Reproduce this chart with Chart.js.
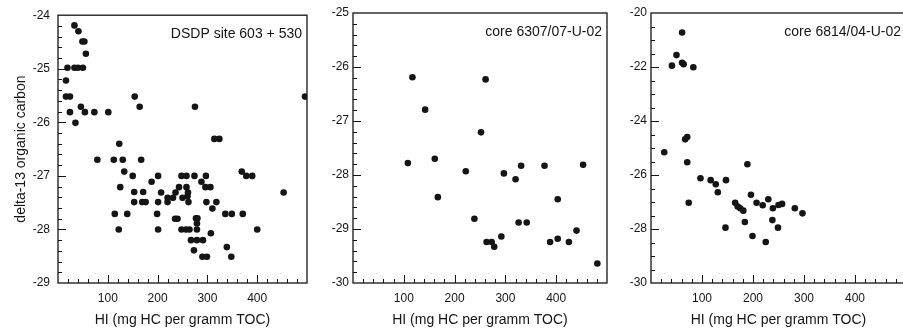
<!DOCTYPE html>
<html>
<head>
<meta charset="utf-8">
<title>delta-13 organic carbon vs HI</title>
<script src="https://cdn.jsdelivr.net/npm/chart.js@4.4.1/dist/chart.umd.min.js"></script>
<style>
    html, body { margin: 0; padding: 0; background: #fff; width: 903px; height: 330px; overflow: hidden; }
    .panel { position: absolute; top: 0; }
</style>
</head>
<body>
<div class="panel" style="left:0px"><canvas id="chart-dsdp" width="315" height="330"></canvas></div>
<div class="panel" style="left:315px"><canvas id="chart-6307" width="300" height="330"></canvas></div>
<div class="panel" style="left:615px"><canvas id="chart-6814" width="300" height="330"></canvas></div>
<script>
// *** DATA ***
var panelLabels = ["DSDP site 603 + 530", "core 6307/07-U-02", "core 6814/04-U-02"];
var hiTickLabels = [100, 200, 300, 400];
var xTitle = "HI (mg HC per gramm TOC)";
var yTitle = "delta-13 organic carbon";

// DSDP site 603 + 530
var dsdpHI = [33, 41, 49, 53, 56, 19, 33, 40, 50, 16, 16, 24, 24, 35, 46, 54, 73, 101,
    154, 164, 275, 496, 123, 314, 324, 79, 112, 130, 167, 133, 369,
    150, 201, 188, 248, 258, 274, 297, 288, 378, 390,
    125, 243, 258, 296, 306, 153, 171, 207, 236, 261, 453,
    220, 231, 250, 260, 153, 169, 176, 201, 220, 262, 298, 318, 310,
    114, 139, 199, 336, 349, 371, 235, 240, 277, 280, 279,
    122, 201, 248, 257, 264, 279, 307, 400, 267, 279, 291, 273, 339, 290, 299, 348];
var dsdpC = [-24.19, -24.30, -24.49, -24.49, -24.72, -24.98, -24.98, -24.98, -24.98, -25.22, -25.52, -25.52, -25.81, -26.01, -25.71, -25.81, -25.81, -25.81,
    -25.52, -25.71, -25.71, -25.52, -26.40, -26.31, -26.31, -26.70, -26.70, -26.70, -26.70, -26.92, -26.92,
    -27.00, -27.00, -27.11, -27.00, -27.00, -27.00, -27.00, -27.11, -27.00, -27.00,
    -27.21, -27.21, -27.21, -27.21, -27.21, -27.30, -27.30, -27.31, -27.31, -27.31, -27.31,
    -27.41, -27.41, -27.41, -27.38, -27.49, -27.49, -27.49, -27.49, -27.49, -27.49, -27.49, -27.49, -27.61,
    -27.71, -27.71, -27.71, -27.71, -27.71, -27.71, -27.80, -27.80, -27.79, -27.79, -27.89,
    -28.00, -28.00, -28.00, -28.00, -28.00, -28.00, -28.07, -28.00, -28.20, -28.20, -28.20, -28.39, -28.33, -28.51, -28.51, -28.51];

// core 6307/07-U-02
var core6307HI = [117, 261, 142, 252, 108, 161, 331, 377, 453, 222, 297, 320, 167, 403,
    239, 326, 342, 440, 292, 263, 273, 278, 388, 403, 425, 481];
var core6307C = [-26.19, -26.23, -26.79, -27.21, -27.78, -27.70, -27.83, -27.83, -27.81, -27.93, -27.97, -28.08, -28.41, -28.45,
    -28.81, -28.88, -28.88, -29.03, -29.14, -29.24, -29.24, -29.33, -29.24, -29.18, -29.24, -29.64];

// core 6814/04-U-02
var core6814HI = [61, 50, 41, 61, 64, 83, 71, 67, 26, 71, 189, 74, 97, 117, 127, 131, 147, 196,
    165, 170, 175, 181, 207, 219, 230, 239, 250, 257, 238, 184, 146, 249, 199, 225, 282, 297];
var core6814C = [-20.72, -21.56, -21.95, -21.84, -21.90, -22.01, -24.59, -24.68, -25.16, -25.53, -25.60, -27.03, -26.12, -26.19, -26.34, -26.64, -26.19, -26.73,
    -27.03, -27.17, -27.23, -27.32, -27.03, -27.12, -26.90, -27.23, -27.11, -27.07, -27.67, -27.74, -27.95, -27.95, -28.26, -28.48, -27.23, -27.42];

var inkColor = "#151515";
var fontFamily = "'Liberation Sans', Arial, Helvetica, sans-serif";

// *** FUNCTIONS ***
function toPoints(xs, ys) {
    var points = [];
    for (var i = 0; i < xs.length; i++) {
        points.push({ x: xs[i], y: ys[i] });
    }
    return points;
};

// box round the plot, inward ticks and the site label in the corner
var panelFrame = {
    id: 'panelFrame',
    afterDraw: function(chart, args, opts) {
        var ctx = chart.ctx;
        var area = chart.chartArea;
        var xScale = chart.scales.x;
        var yScale = chart.scales.y;
        ctx.save();
        ctx.strokeStyle = inkColor;
        ctx.lineWidth = 1.3;
        ctx.strokeRect(area.left, area.top, area.right - area.left, area.bottom - area.top);

        ctx.lineWidth = 1;
        ctx.beginPath();
        var nx = Math.round((xScale.max - xScale.min) / opts.xMinor);
        for (var i = 1; i < nx; i++) {
            var v = xScale.min + i * opts.xMinor;
            var px = Math.round(xScale.getPixelForValue(v)) + 0.5;
            var len = (Math.round(v) % opts.xMajor === 0) ? 8 : 4;
            ctx.moveTo(px, area.bottom);
            ctx.lineTo(px, area.bottom - len);
        }
        var ny = Math.round((yScale.max - yScale.min) / opts.yMinor);
        for (var j = 1; j < ny; j++) {
            var w = yScale.min + j * opts.yMinor;
            var py = Math.round(yScale.getPixelForValue(w)) + 0.5;
            var isMajor = Math.abs(w / opts.yMajor - Math.round(w / opts.yMajor)) < 1e-6;
            ctx.moveTo(area.left, py);
            ctx.lineTo(area.left + (isMajor ? 8 : 4), py);
        }
        ctx.stroke();

        ctx.fillStyle = inkColor;
        ctx.font = "14px " + fontFamily;
        ctx.textAlign = 'right';
        ctx.textBaseline = 'middle';
        ctx.fillText(opts.label, area.right - 5, area.top + 19);
        ctx.restore();
    }
};

function scatterPanel(canvasId, points, settings) {
    return new Chart(document.getElementById(canvasId), {
        type: 'scatter',
        data: {
            datasets: [{
                data: points,
                backgroundColor: inkColor,
                borderWidth: 0,
                pointRadius: 3.3,
                pointHoverRadius: 3.3
            }]
        },
        options: {
            responsive: false,
            animation: false,
            devicePixelRatio: 1,
            layout: { padding: { top: 13, right: settings.rightPad, bottom: 0, left: 0 } },
            plugins: {
                legend: { display: false },
                tooltip: { enabled: false },
                panelFrame: {
                    label: settings.label,
                    xMinor: 20, xMajor: 100,
                    yMinor: settings.yMinor, yMajor: settings.yStep
                }
            },
            scales: {
                x: {
                    type: 'linear',
                    min: 0, max: 500,
                    grid: { display: false, drawTicks: false },
                    border: { display: false },
                    ticks: {
                        stepSize: 100,
                        padding: 8,
                        color: inkColor,
                        font: { family: fontFamily, size: 12 },
                        callback: function(value) {
                            return hiTickLabels.indexOf(value) >= 0 ? String(value) : '';
                        }
                    },
                    title: {
                        display: true,
                        text: xTitle,
                        color: inkColor,
                        font: { family: fontFamily, size: 14 },
                        padding: { top: 0, bottom: 1 }
                    },
                    afterFit: function(scale) { scale.height = 47; }
                },
                y: {
                    type: 'linear',
                    min: settings.yMin, max: settings.yMax,
                    grid: { display: false, drawTicks: false },
                    border: { display: false },
                    ticks: {
                        stepSize: settings.yStep,
                        padding: settings.tickPad,
                        color: inkColor,
                        font: { family: fontFamily, size: 12 }
                    },
                    title: {
                        display: settings.showTitle,
                        text: yTitle,
                        color: inkColor,
                        font: { family: fontFamily, size: 14 },
                        padding: { top: 13, bottom: 0 }
                    },
                    afterFit: function(scale) { scale.width = settings.axisWidth; }
                }
            }
        },
        plugins: [panelFrame]
    });
};

scatterPanel('chart-dsdp', toPoints(dsdpHI, dsdpC), {
    label: panelLabels[0], yMin: -29, yMax: -24, yStep: 1, yMinor: 0.2,
    axisWidth: 58, rightPad: 4, tickPad: 8, showTitle: true
});
scatterPanel('chart-6307', toPoints(core6307HI, core6307C), {
    label: panelLabels[1], yMin: -30, yMax: -25, yStep: 1, yMinor: 0.2,
    axisWidth: 38, rightPad: 5, tickPad: 4, showTitle: false
});
scatterPanel('chart-6814', toPoints(core6814HI, core6814C), {
    label: panelLabels[2], yMin: -30, yMax: -20, yStep: 2, yMinor: 0.5,
    axisWidth: 36, rightPad: 9, tickPad: 4, showTitle: false
});
</script>
</body>
</html>
